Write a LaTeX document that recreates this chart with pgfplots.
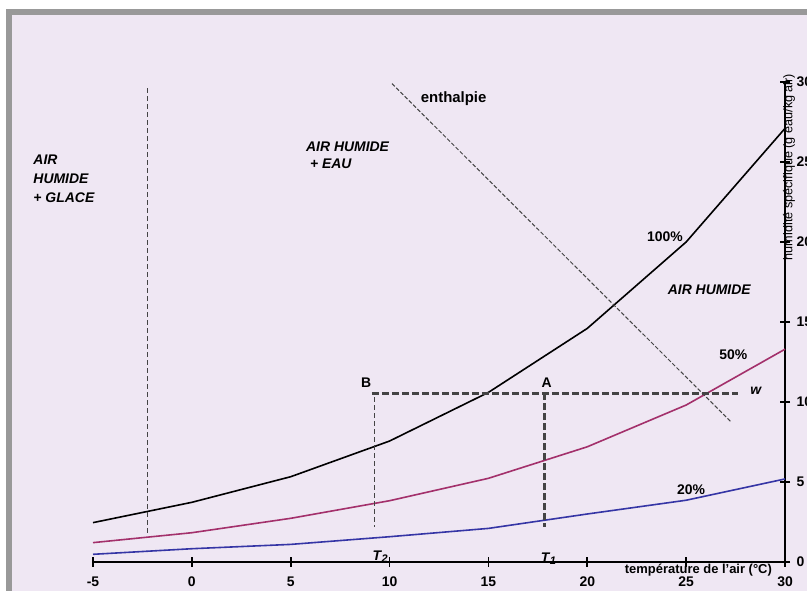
\documentclass[border=0pt]{standalone}
\usepackage{pgfplots}
\pgfplotsset{compat=1.18}
\usepackage{fontspec}
\setmainfont{Liberation Sans}
\definecolor{bg}{HTML}{EFE7F3}
\definecolor{framec}{HTML}{999999}
\definecolor{mag}{HTML}{A3306B}
\definecolor{blu}{HTML}{3535A5}
\definecolor{dk}{HTML}{444444}
\newcommand{\fs}[1]{\fontsize{#1}{#1}\selectfont}
\newcommand{\Tsub}[1]{T\kern0.5bp\raisebox{-2.5bp}{\fs{11}#1}}
\begin{document}
\begin{tikzpicture}[x=1bp,y=1bp]
\useasboundingbox (0,0) rectangle (807,591);
\fill[white] (0,0) rectangle (807,591);
\fill[framec] (6,0) rectangle (807,582);
\fill[bg] (12,0) rectangle (807,576);
\clip (0,0) rectangle (807,591);
\begin{axis}[
  at={(93bp,29bp)}, anchor=south west, scale only axis,
  width=692bp, height=480bp,
  xmin=-5, xmax=30, ymin=0, ymax=30,
  axis x line*=bottom, axis y line*=right,
  axis line style={line width=1.6bp, black},
  xtick={-5,0,5,10,15,20,25,30}, ytick={0,5,10,15,20,25,30},
  xticklabels={-5,0,5,10,15,20,25,30},
  yticklabels={0,5,10,15,20,25,30},
  tick align=center, major tick length=10bp,
  tick style={line width=1.6bp, black},
  xticklabel style={font=\bfseries\fs{14}, yshift=-6bp},
  yticklabel style={font=\bfseries\fs{14}, anchor=west, xshift=3bp},
  clip=false,
]
% saturation curves
\addplot[black, line width=1.6bp] coordinates {(-5,2.46)(0,3.73)(5,5.33)(10,7.56)(15,10.6)(20,14.6)(25,20.0)(30,27.1)};
\addplot[mag, line width=1.6bp] coordinates {(-5,1.21)(0,1.83)(5,2.73)(10,3.83)(15,5.23)(20,7.2)(25,9.81)(30,13.3)};
\addplot[blu, line width=1.6bp] coordinates {(-5,0.48)(0,0.83)(5,1.1)(10,1.58)(15,2.1)(20,3.0)(25,3.86)(30,5.19)};
% ice / water boundary
\addplot[dk, line width=0.9bp, dash pattern=on 5bp off 3bp] coordinates {(-2.27,29.6)(-2.27,1.69)};
% enthalpy line
\addplot[dk, line width=1bp, dash pattern=on 4bp off 2bp] coordinates {(10.12,29.9)(27.26,8.77)};
% w line
\addplot[dk, line width=2.4bp, dash pattern=on 7bp off 3bp] coordinates {(9.1,10.54)(27.64,10.54)};
% A vertical
\addplot[dk, line width=2.8bp, dash pattern=on 7bp off 3bp] coordinates {(17.83,10.54)(17.83,2.2)};
% B vertical
\addplot[dk, line width=1bp, dash pattern=on 5bp off 3bp] coordinates {(9.26,10.3)(9.26,2.2)};
% texts
\node[inner sep=0, font=\bfseries\fs{15}] at (axis cs:13.24,28.98) {enthalpie};
\node[inner sep=0, anchor=west, font=\bfseries\itshape\fs{14}] at (axis cs:5.77,25.96) {AIR HUMIDE};
\node[inner sep=0, anchor=west, font=\bfseries\itshape\fs{14}] at (axis cs:5.97,24.86) {+ EAU};
\node[inner sep=0, anchor=west, font=\bfseries\itshape\fs{14}] at (axis cs:-8.02,25.13) {AIR};
\node[inner sep=0, anchor=west, font=\bfseries\itshape\fs{14}] at (axis cs:-8.02,23.98) {HUMIDE};
\node[inner sep=0, anchor=west, font=\bfseries\itshape\fs{14}] at (axis cs:-8.02,22.77) {+ GLACE};
\node[inner sep=0, font=\bfseries\fs{14}] at (axis cs:23.93,20.33) {100\%};
\node[inner sep=0, font=\bfseries\itshape\fs{14}] at (axis cs:26.17,17.0) {AIR HUMIDE};
\node[inner sep=0, font=\bfseries\fs{14}] at (axis cs:27.39,12.98) {50\%};
\node[inner sep=0, font=\bfseries\itshape\fs{14}] at (axis cs:28.52,10.71) {w};
\node[inner sep=0, font=\bfseries\fs{14}] at (axis cs:25.25,4.5) {20\%};
\node[inner sep=0, font=\bfseries\fs{14}] at (axis cs:17.95,11.23) {A};
\node[inner sep=0, font=\bfseries\fs{14}] at (axis cs:8.81,11.23) {B};
\node[inner sep=0, font=\bfseries\itshape\fs{14}] at (axis cs:18.03,0.2) {\Tsub{1}};
\node[inner sep=0, font=\bfseries\itshape\fs{14}] at (axis cs:9.52,0.32) {\Tsub{2}};
\node[inner sep=0, font=\bfseries\fs{13}] at (axis cs:25.62,-0.5) {température de l'air (°C)};
\node[inner sep=0, rotate=90, font=\fs{12.7}] at (axis cs:30.2,24.69) {humidité spécifique (g eau/kg air)};
\end{axis}
\end{tikzpicture}
\end{document}
